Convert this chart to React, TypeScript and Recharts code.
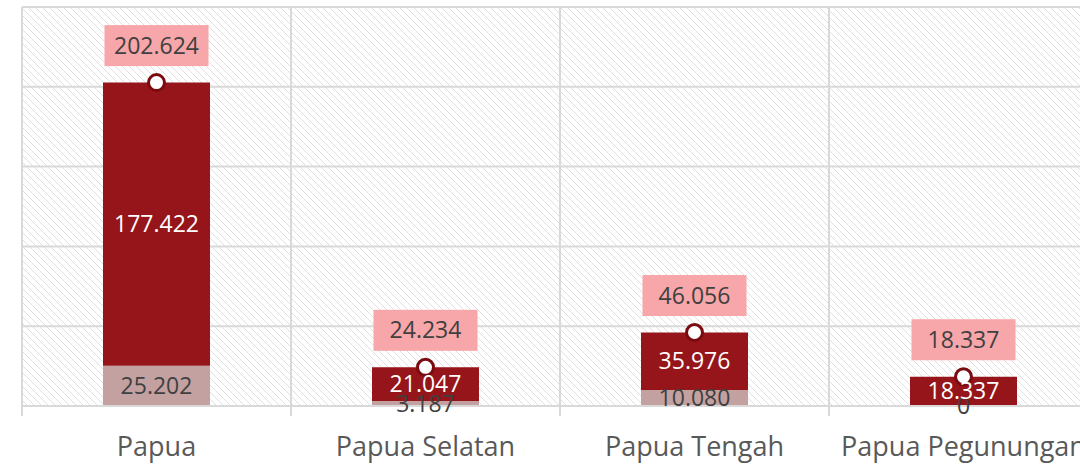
import React from 'react';
import { ComposedChart, Bar, Line, XAxis, YAxis, CartesianGrid, LabelList } from 'recharts';

const regions = ['Papua', 'Papua Selatan', 'Papua Tengah', 'Papua Pegunungan'];
const lowerValues = [25.202, 3.187, 10.08, 0];
const upperValues = [177.422, 21.047, 35.976, 18.337];
const totalValues = [202.624, 24.234, 46.056, 18.337];
const yTicks = [0, 50, 100, 150, 200, 250];

const data = regions.map((name, i) => ({
  name,
  lower: lowerValues[i],
  upper: upperValues[i],
  total: totalValues[i],
}));

const fmt = (v: number) => (v === 0 ? '0' : v.toFixed(3));

// total label: pink box above the marker
const TotalLabel = (props: any) => {
  const { x, y, value } = props;
  const w = 104;
  const h = 41;
  const cy = y - 37;
  return (
    <g>
      <rect x={x - w / 2} y={cy - h / 2} width={w} height={h} fill="#f7a6a9" />
      <text x={x} y={cy} dy="0.35em" textAnchor="middle" fill="#404040" fontSize={23} fontFamily="Open Sans">
        {fmt(value)}
      </text>
    </g>
  );
};

// segment label centred in its bar piece, drawn even for zero height
const SegmentLabel = (props: any) => {
  const { viewBox, value, color } = props;
  if (!viewBox) return null;
  const { x, y, width, height } = viewBox;
  return (
    <text x={x + width / 2} y={y + height / 2} dy="0.35em" textAnchor="middle" fill={color} fontSize={23} fontFamily="Open Sans">
      {fmt(Number(value))}
    </text>
  );
};

const CategoryTick = (props: any) => {
  const { x, y, payload } = props;
  const half = payload.offset || 0;
  return (
    <g>
      <line x1={x - half} x2={x - half} y1={y - 8} y2={y + 2} stroke="#d9d9d9" strokeWidth={2} />
      <text x={x} y={y + 33} dy="0.35em" textAnchor="middle" fill="#595959" fontSize={27} fontFamily="Open Sans">
        {payload.value}
      </text>
    </g>
  );
};

export default function App() {
  return (
    <div style={{ position: 'fixed', left: 0, top: 0, width: 1080, height: 465, overflow: 'hidden', background: '#fff' }}>
      <ComposedChart width={1110} height={465} data={data} margin={{ top: 7, right: 12, bottom: 0, left: 22 }} barGap={0}>
        <defs>
          <pattern id="hatch" patternUnits="userSpaceOnUse" width={7} height={7}>
            <rect width={7} height={7} fill="#ffffff" />
            <path d="M-1,-1 L8,8 M-1,6 L1,8 M6,-1 L8,1" stroke="#e0e0e0" strokeWidth={1} />
          </pattern>
        </defs>
        <CartesianGrid
          fill="url(#hatch)"
          fillOpacity={1}
          stroke="#d9d9d9"
          strokeWidth={2}
          verticalCoordinatesGenerator={({ offset }: any) =>
            regions.map((_, i) => offset.left + (i * offset.width) / regions.length).concat(offset.left + offset.width)
          }
        />
        <XAxis
          dataKey="name"
          height={59}
          axisLine={{ stroke: '#d9d9d9', strokeWidth: 2 }}
          tickLine={false}
          tick={<CategoryTick />}
          interval={0}
        />
        <YAxis hide domain={[0, 250]} ticks={yTicks} />
        <Bar dataKey="lower" stackId="a" fill="#c4a1a1" barSize={107} minPointSize={0.01} isAnimationActive={false}>
          <LabelList dataKey="lower" content={<SegmentLabel color="#404040" />} />
        </Bar>
        <Bar dataKey="upper" stackId="a" fill="#95151a" barSize={107} isAnimationActive={false}>
          <LabelList dataKey="upper" content={<SegmentLabel color="#ffffff" />} />
        </Bar>
        <Line
          dataKey="total"
          stroke="none"
          isAnimationActive={false}
          dot={{ r: 8, fill: '#ffffff', stroke: '#7a0c10', strokeWidth: 3 }}
          activeDot={false}
        >
          <LabelList dataKey="total" content={<TotalLabel />} />
        </Line>
      </ComposedChart>
    </div>
  );
}
